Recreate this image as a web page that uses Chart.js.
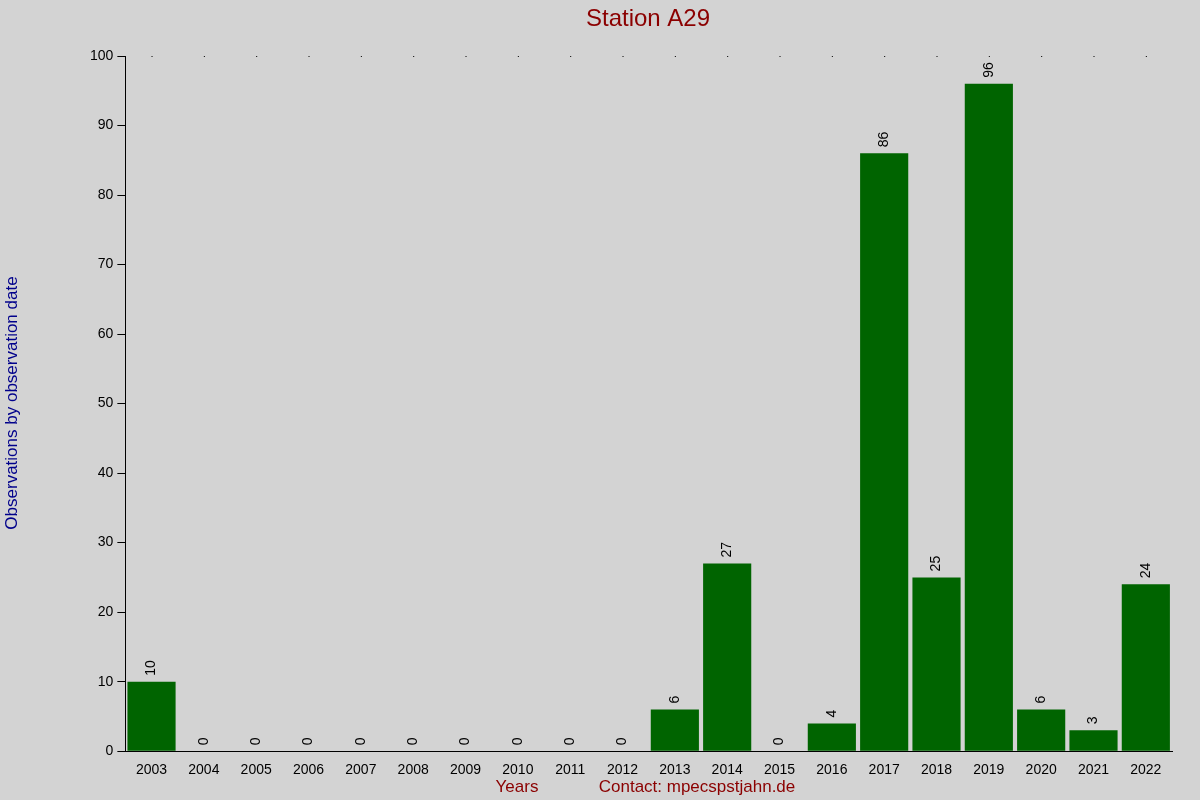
<!DOCTYPE html>
<html><head><meta charset="utf-8">
<script src="https://cdn.jsdelivr.net/npm/chart.js@4"></script>
<style>html,body{margin:0;background:#d3d3d3}#c{display:block}</style>
</head><body>
<div style="width:1200px;height:800px"><canvas id="c"></canvas></div>
<script>
const years=["2003","2004","2005","2006","2007","2008","2009","2010","2011","2012","2013","2014","2015","2016","2017","2018","2019","2020","2021","2022"];
const counts=[10,0,0,0,0,0,0,0,0,0,6,27,0,4,86,25,96,6,3,24];
const yTicks=[0,10,20,30,40,50,60,70,80,90,100];
const F='"Liberation Sans", Arial, sans-serif';
const deco={id:'deco',afterDatasetsDraw(ch){
  const c=ch.ctx, m=ch.getDatasetMeta(0), a=ch.chartArea;
  c.save();
  c.fillStyle='#000';c.font='14px '+F;c.textAlign='left';c.textBaseline='middle';
  m.data.forEach((b,i)=>{c.save();c.translate(b.x,b.y-6);c.rotate(-Math.PI/2);c.fillText(String(counts[i]),0,0);c.restore();});
  m.data.forEach(b=>{c.fillRect(b.x,a.top,1,1);});
  c.textAlign='center';c.textBaseline='alphabetic';
  c.fillStyle='#8b0000';c.font='24px '+F;c.fillText('Station A29',648,26);
  c.font='17px '+F;c.fillText('Years',517,792);c.fillText('Contact: mpecspstjahn.de',697,792);
  c.save();c.translate(17,403);c.rotate(-Math.PI/2);c.fillStyle='#00008b';c.fillText('Observations by observation date',0,0);c.restore();
  c.restore();
}};
new Chart(document.getElementById('c'),{type:'bar',
 data:{labels:years,datasets:[{data:counts,backgroundColor:'#006400',barPercentage:0.92,categoryPercentage:1}]},
 options:{responsive:true,maintainAspectRatio:false,animation:false,
  layout:{padding:{left:86,top:56,right:28,bottom:18}},
  plugins:{legend:{display:false},tooltip:{enabled:false}},
  scales:{
   x:{grid:{display:false,drawTicks:true},border:{color:'#000'},ticks:{color:'#000',font:{size:14,family:F},maxRotation:0,autoSkip:false}},
   y:{min:0,max:100,afterBuildTicks(ax){ax.ticks=yTicks.map(v=>({value:v}));},grid:{display:true,drawOnChartArea:false,color:'#000',tickLength:8},border:{color:'#000'},ticks:{color:'#000',font:{size:14,family:F},padding:4}}
  }},
 plugins:[deco]});
</script></body></html>
